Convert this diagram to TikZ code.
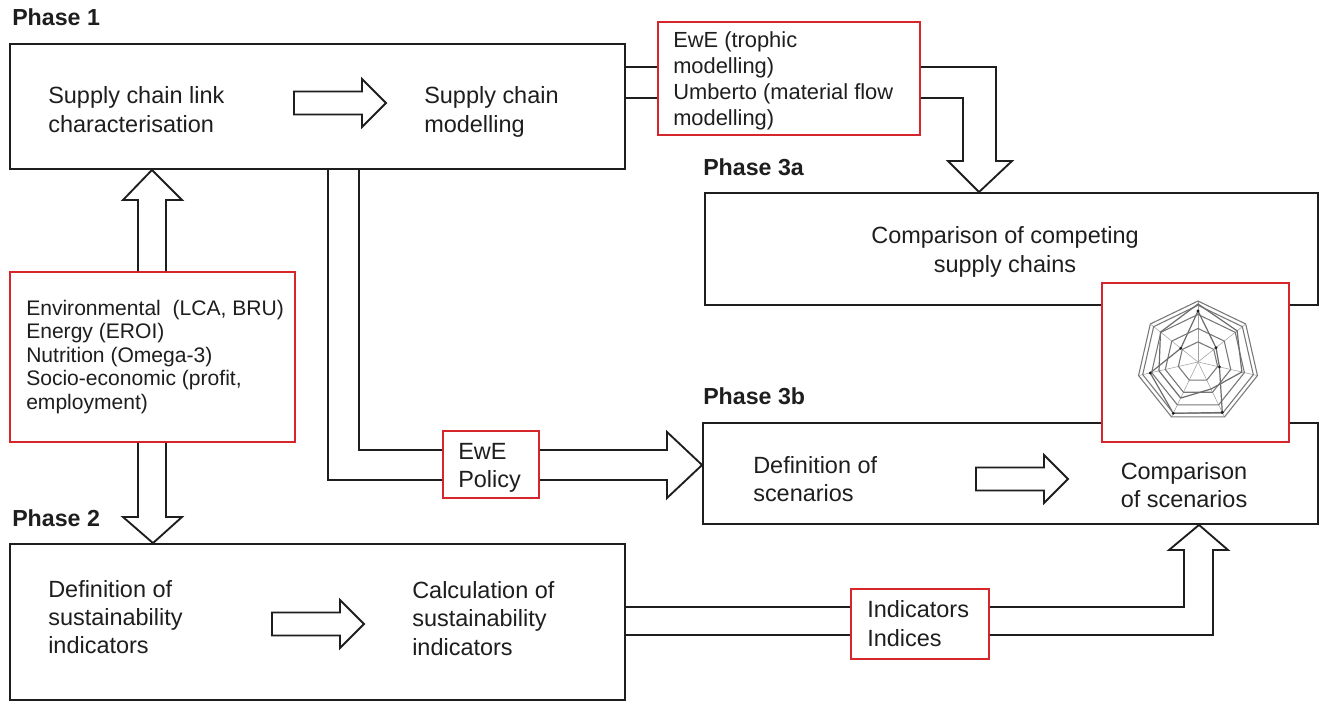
\documentclass[tikz,border=0pt]{standalone}
\usepackage{fontspec}
\setmainfont{Liberation Sans}
\usetikzlibrary{fit}
\definecolor{boxred}{RGB}{214,38,44}
\definecolor{ink}{RGB}{30,30,30}
\definecolor{webgrey}{RGB}{120,120,120}
\begin{document}
\begin{tikzpicture}[x=0.75pt,y=-0.75pt,
  box/.style={draw=ink, line width=1.4pt, fill=white, inner sep=0pt},
  redbox/.style={draw=boxred, line width=1.4pt, fill=white, inner sep=0pt},
  conn/.style={draw=ink, line width=1.4pt, line join=miter},
  label/.style={anchor=base west, inner sep=0pt, align=left, text=ink,
    font=\fontsize{17.6}{21.5}\selectfont},
  phase/.style={anchor=base west, inner sep=0pt, text=ink,
    font=\bfseries\fontsize{17.4}{21}\selectfont},
  fatarrow/.pic={\draw[conn] (0,-11.5) -- (68,-11.5) -- (68,-24) -- (92,0)
    -- (68,24) -- (68,11.5) -- (0,11.5) -- cycle;}
]
\useasboundingbox (0,0) rectangle (1321,703);

% ---------- phase boxes ----------
\node[box, fit={(10,44)(625,169)}] (p1) {};
\node[box, fit={(10,544)(625,700)}] (p2) {};
\node[box, fit={(705,193)(1318,305)}] (p3a) {};
\node[box, fit={(703,423)(1318,524)}] (p3b) {};

% ---------- tool / input boxes ----------
\node[redbox, fit={(658,22)(920,135)}] (tools) {};
\node[redbox, fit={(10,272)(295,442)}] (env) {};
\node[redbox, fit={(443,431)(539,498)}] (pol) {};
\node[redbox, fit={(851,589)(989,659)}] (ind) {};
\node[redbox, fit={(1102,283)(1289,442)}] (radar) {};

% ---------- phase headings ----------
\node[phase] (h1) at (12,26) {Phase 1};
\node[phase] (h2) at (12,526) {Phase 2};
\node[phase] (h3a) at (703,175) {Phase 3a};
\node[phase] (h3b) at (703,404) {Phase 3b};

% ---------- texts (placed by the baseline of their last line) ----------
\node[label, font=\fontsize{17.6}{21.75}\selectfont] (link) at (48,132)
  {Supply chain link\\characterisation};
\node[label, font=\fontsize{17.6}{21.75}\selectfont] (model) at (424,132)
  {Supply chain\\modelling};
\node[label, font=\fontsize{16.4}{19.5}\selectfont] (ttext) at (673,125)
  {EwE (trophic\\modelling)\\Umberto (material flow\\modelling)};
\node[label, anchor=base, align=center, font=\fontsize{17.6}{21.75}\selectfont]
  (compsc) at (1005,272) {Comparison of competing\\supply chains};
\node[label, font=\fontsize{17.6}{21}\selectfont] (defsc) at (753,501)
  {Definition of\\scenarios};
\node[label, anchor=base, align=center, font=\fontsize{17.6}{21}\selectfont]
  (cmpsc) at (1184,507) {Comparison\\of scenarios};
\node[label, font=\fontsize{15.8}{17.6}\selectfont] (etext) at (26,409)
  {Environmental\ \ (LCA, BRU)\\Energy (EROI)\\Nutrition (Omega-3)\\Socio-economic (profit,\\employment)};
\node[label, font=\fontsize{17.6}{21}\selectfont] (ptext) at (458,487)
  {EwE\\Policy};
\node[label, font=\fontsize{17.6}{21}\selectfont] (defind) at (48,653)
  {Definition of\\sustainability\\indicators};
\node[label, font=\fontsize{17.6}{21.3}\selectfont] (calind) at (412,655)
  {Calculation of\\sustainability\\indicators};
\node[label, font=\fontsize{17.6}{21.75}\selectfont] (itext) at (867,646)
  {Indicators\\Indices};

% ---------- arrows inside the phases ----------
\pic at (294,103) {fatarrow};
\pic at (272,624) {fatarrow};
\pic at (976,479) {fatarrow};

% ---------- phase 1 -> tools -> phase 3a ----------
\coordinate (ta) at (996,67);
\coordinate (tb) at (963,98);
\draw[conn] (p1.east |- ta) -- (tools.west |- ta);
\draw[conn] (p1.east |- tb) -- (tools.west |- tb);
\draw[conn] (tools.east |- ta) -- (ta) -- (996,161) -- (1012,161)
  -- (p3a.north -| 979,0) -- (948,161) -- (963,161) -- (tb) -- (tools.east |- tb);

% ---------- indicators <-> phase 1 and phase 2 ----------
\draw[conn] (env.north -| 138,0) -- (138,200) -- (123,200) -- (p1.south -| 152,0)
  -- (182,200) -- (166,200) -- (env.north -| 166,0);
\draw[conn] (env.south -| 138,0) -- (138,517) -- (123,517) -- (p2.north -| 153,0)
  -- (182,517) -- (166,517) -- (env.south -| 166,0);

% ---------- phase 1 -> EwE policy -> phase 3b ----------
\coordinate (pa) at (328,480);
\coordinate (pb) at (359,450);
\draw[conn] (p1.south -| pa) -- (pa) -- (pol.west |- pa);
\draw[conn] (p1.south -| pb) -- (pb) -- (pol.west |- pb);
\draw[conn] (pol.east |- pb) -- (667,450) -- (667,432) -- (p3b.west |- 0,465)
  -- (667,498) -- (667,480) -- (pol.east |- pa);

% ---------- phase 2 -> indices -> phase 3b ----------
\coordinate (ia) at (1184,607);
\coordinate (ib) at (1213,635);
\draw[conn] (p2.east |- ia) -- (ind.west |- ia);
\draw[conn] (p2.east |- ib) -- (ind.west |- ib);
\draw[conn] (ind.east |- ia) -- (ia) -- (1184,550) -- (1169,550)
  -- (p3b.south -| 1199,0) -- (1228,550) -- (1213,550) -- (ib) -- (ind.east |- ib);

% ---------- radar chart of the scenario comparison ----------
\begin{scope}[shift={(1198,362)}, yscale=-1]
  \foreach \a in {90,141.43,192.86,244.29,295.71,347.14,38.57}
    \draw[webgrey!70, line width=0.4pt] (0,0) -- (\a:61);
  \foreach \r in {0.33,0.55,0.78,0.93,1}
    \draw[webgrey, line width=0.8pt]
      (90:61*\r) -- (141.43:61*\r) -- (192.86:61*\r) -- (244.29:61*\r)
      -- (295.71:61*\r) -- (347.14:61*\r) -- (38.57:61*\r) -- cycle;
  \draw[webgrey!90!black, line width=0.9pt]
    (90:51) -- (141.43:22) -- (192.86:49) -- (244.29:57)
    -- (295.71:56) -- (347.14:22) -- (38.57:23) -- cycle;
  \draw[webgrey!90!black, line width=0.9pt]
    (90:58) -- (141.43:48) -- (192.86:40) -- (244.29:40)
    -- (295.71:30) -- (347.14:45) -- (38.57:50) -- cycle;
  \foreach \a/\r in {90/51,141.43/22,192.86/49,244.29/57,295.71/56,347.14/22,38.57/23}
    \fill[ink] (\a:\r) circle (1.6);
\end{scope}
\end{tikzpicture}
\end{document}
